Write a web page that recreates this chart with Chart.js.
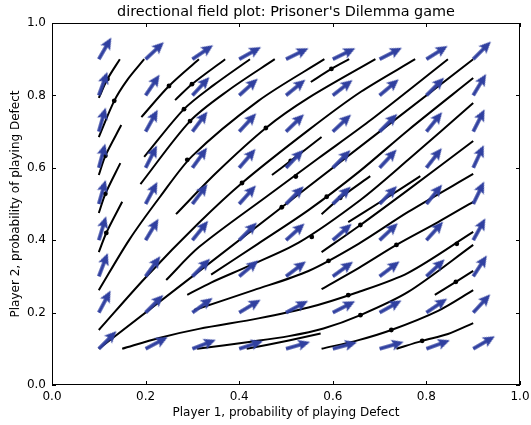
<!DOCTYPE html>
<html>
<head>
<meta charset="utf-8">
<script src="https://cdn.jsdelivr.net/npm/chart.js@4.4.1/dist/chart.umd.min.js"></script>
<style>
  html, body { margin: 0; padding: 0; background: #fff; }
  #wrap { width: 531px; height: 425px; }
</style>
</head>
<body>
<div id="wrap"><canvas id="fieldChart" width="531" height="425"></canvas></div>
<script>
// grid of the quiver arrows
const gridX = [0.1, 0.2, 0.3, 0.4, 0.5, 0.6, 0.7, 0.8, 0.9];
const gridY = [0.1, 0.2, 0.3, 0.4, 0.5, 0.6, 0.7, 0.8, 0.9];
// arrow direction in degrees, one row per gridY value (bottom row first)
const arrowAngles = [
  [45, 28, 21, 18, 16, 15, 16, 20, 30],
  [62, 45, 36, 31, 28, 27, 29, 34, 47],
  [69, 54, 45, 40, 37, 36, 37, 43, 57],
  [73, 59, 51, 45, 42, 41, 43, 48, 61],
  [74, 62, 53, 48, 45, 44, 46, 51, 64],
  [75, 63, 54, 49, 46, 45, 47, 52, 65],
  [74, 61, 53, 47, 44, 43, 45, 51, 63],
  [70, 56, 47, 42, 39, 38, 40, 45, 59],
  [60, 43, 34, 29, 26, 26, 27, 32, 45]
];
// trajectories, each a list of [p1, p2] points
const streamlines = [
  [[0.1, 0.793], [0.1185, 0.845], [0.145, 0.9]],
  [[0.1, 0.685], [0.133, 0.785], [0.161, 0.843], [0.197, 0.9]],
  [[0.1, 0.580], [0.114, 0.633], [0.148, 0.718]],
  [[0.1, 0.475], [0.114, 0.528], [0.146, 0.613]],
  [[0.1, 0.367], [0.116, 0.420], [0.150, 0.506]],
  [[0.191, 0.740], [0.250, 0.826], [0.314, 0.9]],
  [[0.263, 0.787], [0.299, 0.831], [0.370, 0.9]],
  [[0.197, 0.630], [0.282, 0.762], [0.346, 0.829], [0.423, 0.9]],
  [[0.189, 0.555], [0.295, 0.729], [0.378, 0.815], [0.476, 0.9]],
  [[0.1, 0.262], [0.165, 0.401], [0.231, 0.520], [0.300, 0.633], [0.441, 0.785], [0.582, 0.9]],
  [[0.265, 0.472], [0.350, 0.585], [0.457, 0.710], [0.548, 0.793], [0.691, 0.9]],
  [[0.1, 0.152], [0.200, 0.297], [0.314, 0.448], [0.406, 0.558], [0.548, 0.704], [0.660, 0.810], [0.776, 0.9]],
  [[0.244, 0.290], [0.314, 0.381], [0.463, 0.525], [0.570, 0.627], [0.676, 0.727], [0.846, 0.9]],
  [[0.470, 0.580], [0.510, 0.619], [0.576, 0.685]],
  [[0.553, 0.837], [0.597, 0.873], [0.635, 0.9]],
  [[0.1, 0.1], [0.5, 0.5], [0.9, 0.9]],
  [[0.34, 0.305], [0.440, 0.390], [0.548, 0.483], [0.655, 0.588], [0.761, 0.704], [0.9, 0.848]],
  [[0.289, 0.249], [0.340, 0.283], [0.421, 0.329], [0.527, 0.393], [0.659, 0.511], [0.761, 0.622], [0.9, 0.779]],
  [[0.576, 0.472], [0.616, 0.517], [0.680, 0.577]],
  [[0.576, 0.367], [0.659, 0.442], [0.761, 0.539], [0.9, 0.674]],
  [[0.633, 0.450], [0.708, 0.511], [0.787, 0.577]],
  [[0.304, 0.207], [0.431, 0.262], [0.548, 0.315], [0.655, 0.390], [0.761, 0.478], [0.9, 0.583]],
  [[0.576, 0.265], [0.655, 0.323], [0.736, 0.387], [0.825, 0.450], [0.9, 0.506]],
  [[0.150, 0.1], [0.229, 0.130], [0.314, 0.155], [0.441, 0.184], [0.548, 0.214], [0.650, 0.255], [0.761, 0.310], [0.9, 0.423]],
  [[0.310, 0.1], [0.421, 0.119], [0.506, 0.135], [0.580, 0.156], [0.659, 0.193], [0.761, 0.257], [0.9, 0.387]],
  [[0.416, 0.1], [0.506, 0.123], [0.574, 0.142]],
  [[0.818, 0.249], [0.863, 0.285], [0.9, 0.315]],
  [[0.576, 0.1], [0.655, 0.124], [0.725, 0.152], [0.825, 0.205], [0.9, 0.262]],
  [[0.736, 0.1], [0.791, 0.122], [0.846, 0.141], [0.9, 0.171]]
];
// marker dots sitting on the trajectories
const markers = [
  [0.1185, 0.845], [0.133, 0.785], [0.114, 0.633], [0.114, 0.528], [0.116, 0.420],
  [0.250, 0.826], [0.299, 0.831], [0.282, 0.762], [0.295, 0.729], [0.289, 0.622],
  [0.457, 0.710], [0.406, 0.558], [0.510, 0.619], [0.521, 0.576], [0.597, 0.873],
  [0.491, 0.491], [0.616, 0.517], [0.587, 0.520], [0.555, 0.409], [0.659, 0.442],
  [0.591, 0.343], [0.736, 0.387], [0.633, 0.248], [0.865, 0.390], [0.659, 0.193],
  [0.725, 0.152], [0.791, 0.122], [0.863, 0.285]
];
const tickValues = [0, 0.2, 0.4, 0.6, 0.8, 1.0];

const titleText = "directional field plot: Prisoner's Dilemma game";
const xLabel = 'Player 1, probability of playing Defect';
const yLabel = 'Player 2, probability of playing Defect';
const FONT = '"DejaVu Sans", "Liberation Sans", sans-serif';
const ARROW_LEN = 25;

// arrow bitmap, tail at the centre so rotation pivots on the grid point
function makeArrow(color) {
  const c = document.createElement('canvas');
  c.width = 2 * ARROW_LEN + 4;
  c.height = 14;
  const g = c.getContext('2d');
  const cx = c.width / 2, cy = c.height / 2;
  const w = 1.8, hw = 5.5, hl = 12, ha = 10.3;
  g.fillStyle = color;
  g.beginPath();
  g.moveTo(cx, cy - w);
  g.lineTo(cx + ARROW_LEN - ha, cy - w);
  g.lineTo(cx + ARROW_LEN - hl, cy - hw);
  g.lineTo(cx + ARROW_LEN, cy);
  g.lineTo(cx + ARROW_LEN - hl, cy + hw);
  g.lineTo(cx + ARROW_LEN - ha, cy + w);
  g.lineTo(cx, cy + w);
  g.closePath();
  g.fill();
  return c;
}

const arrowPoints = [];
gridY.forEach((yv, j) => {
  gridX.forEach((xv, i) => arrowPoints.push({ x: xv, y: yv, a: arrowAngles[j][i] }));
});

const datasets = [{
  label: 'field',
  data: arrowPoints,
  pointStyle: makeArrow('#3040a0'),
  pointRotation: c => (c.raw ? -c.raw.a : 0),
  pointRadius: 10,
  showLine: false,
  clip: false,
  order: 0
}, {
  label: 'markers',
  data: markers.map(p => ({ x: p[0], y: p[1] })),
  pointStyle: 'circle',
  pointRadius: 2.4,
  pointBackgroundColor: '#000',
  pointBorderWidth: 0,
  showLine: false,
  order: 1
}];

streamlines.forEach((pts, k) => {
  datasets.push({
    label: 'traj' + k,
    data: pts.map(p => ({ x: p[0], y: p[1] })),
    showLine: true,
    borderColor: '#000',
    borderWidth: 2,
    pointRadius: 0,
    tension: 0.3,
    order: 2
  });
});

const framePlugin = {
  id: 'frame',
  afterDatasetsDraw(chart) {
    const { ctx, chartArea: a, scales } = chart;
    ctx.save();
    ctx.strokeStyle = '#000';
    ctx.lineWidth = 1;
    ctx.strokeRect(Math.round(a.left) + 0.5, Math.round(a.top) + 0.5,
      Math.round(a.right - a.left) - 1, Math.round(a.bottom - a.top) - 1);
    ctx.beginPath();
    tickValues.forEach(v => {
      const px = Math.round(scales.x.getPixelForValue(v)) + 0.5;
      ctx.moveTo(px, a.bottom); ctx.lineTo(px, a.bottom - 4);
      ctx.moveTo(px, a.top); ctx.lineTo(px, a.top + 4);
      const py = Math.round(scales.y.getPixelForValue(v)) + 0.5;
      ctx.moveTo(a.left, py); ctx.lineTo(a.left + 4, py);
      ctx.moveTo(a.right, py); ctx.lineTo(a.right - 4, py);
    });
    ctx.stroke();
    ctx.fillStyle = '#000';
    ctx.font = '14.4px ' + FONT;
    ctx.textAlign = 'center';
    ctx.textBaseline = 'middle';
    ctx.fillText(titleText, (a.left + a.right) / 2, 12);
    ctx.restore();
  }
};

new Chart('fieldChart', {
  type: 'scatter',
  data: { datasets: datasets },
  options: {
    responsive: false,
    animation: false,
    devicePixelRatio: 1,
    layout: { padding: { top: 23, right: 10, left: 0, bottom: 0 } },
    plugins: { legend: { display: false }, tooltip: { enabled: false } },
    scales: {
      x: {
        min: 0, max: 1,
        afterFit: s => { s.height = 40; s.paddingLeft = 0; s.paddingRight = 0; },
        grid: { display: false, drawTicks: false },
        border: { display: false },
        ticks: {
          stepSize: 0.2, padding: 5, color: '#000',
          font: { family: FONT, size: 12 },
          callback: v => v.toFixed(1)
        },
        title: {
          display: true, text: xLabel, color: '#000',
          font: { family: FONT, size: 12 },
          padding: { top: 0, bottom: 5 }
        }
      },
      y: {
        min: 0, max: 1,
        afterFit: s => { s.width = 52; s.paddingTop = 0; s.paddingBottom = 0; },
        grid: { display: false, drawTicks: false },
        border: { display: false },
        ticks: {
          stepSize: 0.2, padding: 6, color: '#000',
          font: { family: FONT, size: 12 },
          callback: v => v.toFixed(1)
        },
        title: {
          display: true, text: yLabel, color: '#000',
          font: { family: FONT, size: 12 },
          padding: { top: 9, bottom: 0 }
        }
      }
    }
  },
  plugins: [framePlugin]
});
</script>
</body>
</html>
